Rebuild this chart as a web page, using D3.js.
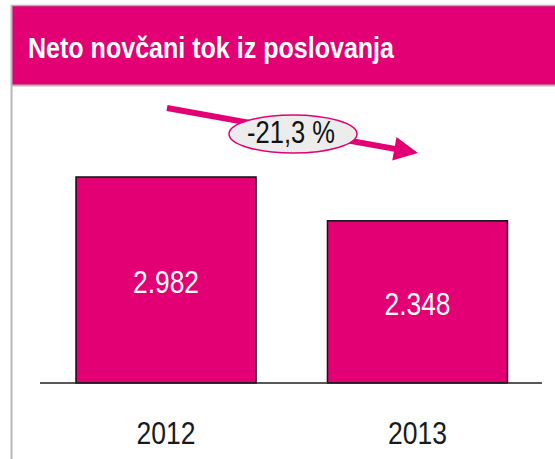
<!DOCTYPE html>
<html>
<head>
<meta charset="utf-8">
<script src="https://cdn.jsdelivr.net/npm/d3@7"></script>
<style>
  body { margin: 0; background: #fff; }
  svg { display: block; }
</style>
</head>
<body>
<svg class="chart" width="555" height="459"></svg>
<script>
// chart data
const title = "Neto novčani tok iz poslovanja";
const years = ["2012", "2013"];
const values = [2982, 2348];
const valueLabels = ["2.982", "2.348"];
const changeLabel = "-21,3 %";

const magenta = "#e20074";
const W = 555, H = 459;
const font = "'Liberation Sans', Arial, sans-serif"; // squeezed with textLength to look condensed

let svg = d3.select("svg.chart");

/***** Frame + header *****/
svg.append("rect") // header band
    .attr("x", 12).attr("y", 6)
    .attr("width", W - 12).attr("height", 79)
    .attr("fill", magenta);
svg.append("line") // top border
    .attr("x1", 11).attr("x2", W).attr("y1", 5.5).attr("y2", 5.5)
    .attr("stroke", "#b0b0b0").attr("stroke-width", 1.5);
svg.append("line") // under header
    .attr("x1", 11).attr("x2", W).attr("y1", 85.5).attr("y2", 85.5)
    .attr("stroke", "#b8b8b8").attr("stroke-width", 2);
svg.append("line") // left border
    .attr("x1", 11.5).attr("x2", 11.5).attr("y1", 5).attr("y2", H)
    .attr("stroke", "#b8b8b8").attr("stroke-width", 2);

svg.append("text")
    .attr("x", 28).attr("y", 58)
    .attr("fill", "#fff")
    .attr("font-family", font)
    .attr("font-weight", "bold")
    .attr("font-size", 29)
    .attr("textLength", 366)
    .attr("lengthAdjust", "spacingAndGlyphs")
    .text(title);

/***** Scales *****/
let x = d3.scaleBand().domain(years).range([76, 507.5])
    .paddingInner(0.284).paddingOuter(0);
let y = d3.scaleLinear().domain([0, d3.max(values)]).range([383, 177]);

let data = years.map((yr, i) => ({ year: yr, value: values[i], label: valueLabels[i] }));

/***** Bars *****/
svg.append("g").selectAll("rect")
    .data(data)
    .join("rect")
    .attr("x", d => x(d.year))
    .attr("y", d => y(d.value))
    .attr("width", x.bandwidth())
    .attr("height", d => y(0) - y(d.value))
    .attr("fill", magenta)
    .attr("stroke", "#111")
    .attr("stroke-width", 1.5);

// value labels inside bars
svg.append("g").selectAll("text")
    .data(data)
    .join("text")
    .attr("x", d => x(d.year) + x.bandwidth() / 2)
    .attr("y", d => (y(d.value) + y(0)) / 2 + 13)
    .attr("text-anchor", "middle")
    .attr("fill", "#fff")
    .attr("font-family", font)
    .attr("font-size", 31)
    .attr("textLength", 66)
    .attr("lengthAdjust", "spacingAndGlyphs")
    .text(d => d.label);

// baseline
svg.append("line")
    .attr("x1", 40).attr("x2", 542)
    .attr("y1", y(0)).attr("y2", y(0))
    .attr("stroke", "#222").attr("stroke-width", 1.5);

// category axis, no line/ticks
let xAxis = svg.append("g")
    .attr("transform", `translate(0,${y(0)})`)
    .call(d3.axisBottom(x).tickSize(0).tickPadding(0));
xAxis.select(".domain").remove();
xAxis.selectAll("text")
    .attr("y", 61)
    .attr("dy", 0)
    .attr("fill", "#1a1a1a")
    .attr("font-family", font)
    .attr("font-size", 31)
    .attr("textLength", 59)
    .attr("lengthAdjust", "spacingAndGlyphs");

/***** Change arrow *****/
let p0 = [167, 108], p1 = [418, 153];
let ang = Math.atan2(p1[1] - p0[1], p1[0] - p0[0]);
let headLen = 24, headW = 12;
let bx = p1[0] - headLen * Math.cos(ang), by = p1[1] - headLen * Math.sin(ang);
svg.append("line")
    .attr("x1", p0[0]).attr("y1", p0[1])
    .attr("x2", bx + 2 * Math.cos(ang)).attr("y2", by + 2 * Math.sin(ang))
    .attr("stroke", magenta).attr("stroke-width", 6);
svg.append("path")
    .attr("d", d3.line()([
        p1,
        [bx - headW * Math.sin(ang), by + headW * Math.cos(ang)],
        [bx + headW * Math.sin(ang), by - headW * Math.cos(ang)]
    ]) + "Z")
    .attr("fill", magenta);

svg.append("ellipse")
    .attr("cx", 293).attr("cy", 134)
    .attr("rx", 64).attr("ry", 19)
    .attr("fill", "#ececec")
    .attr("stroke", magenta).attr("stroke-width", 1.5);
svg.append("text")
    .attr("x", 291).attr("y", 143)
    .attr("text-anchor", "middle")
    .attr("fill", "#111")
    .attr("font-family", font)
    .attr("font-size", 32)
    .attr("textLength", 88)
    .attr("lengthAdjust", "spacingAndGlyphs")
    .text(changeLabel);
</script>
</body>
</html>
